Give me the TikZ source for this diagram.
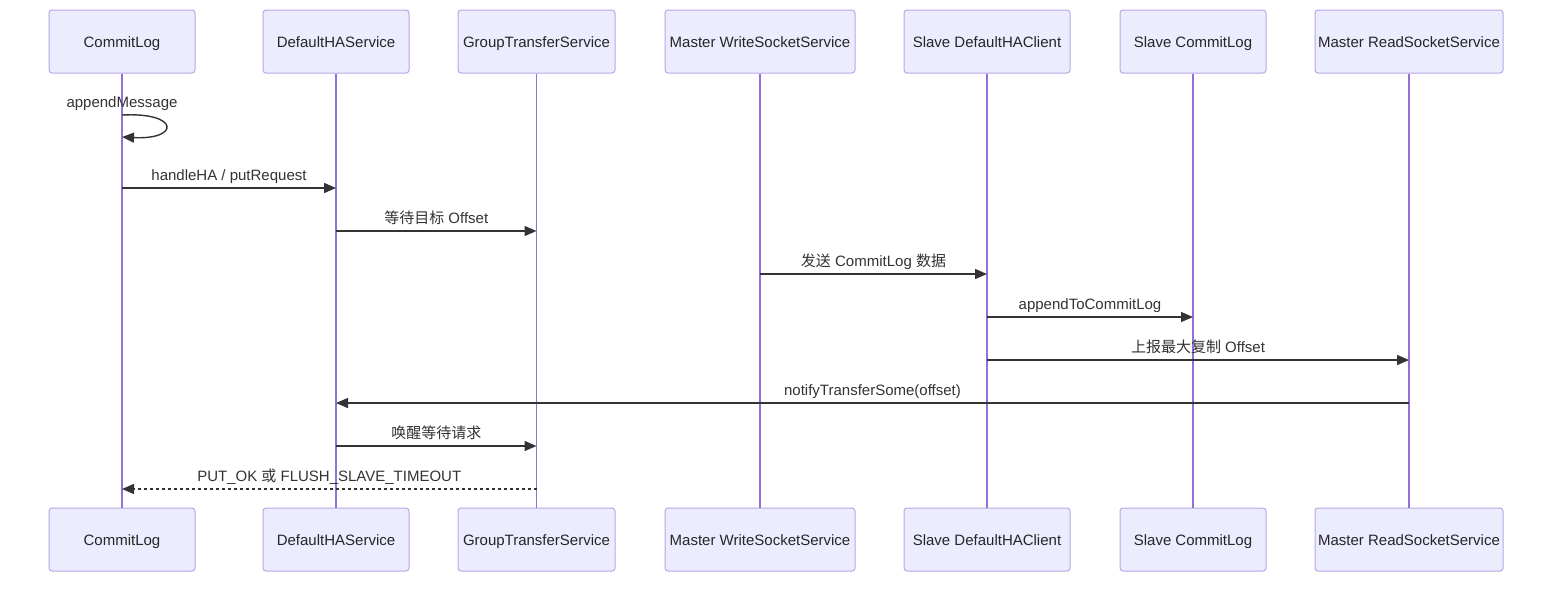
\documentclass[tikz,border=0pt]{standalone}
\usepackage{fontspec}
\setmainfont{Liberation Sans}
\newfontfamily\cjk{Noto Sans CJK SC}
\usepackage{xcolor}
\usetikzlibrary{arrows.meta}
\definecolor{actorfill}{HTML}{ECECFF}
\definecolor{actorline}{HTML}{B7A6E6}
\definecolor{lifeline}{HTML}{9370DB}
\definecolor{msgline}{HTML}{333333}
\tikzset{
  actor/.style={
    draw=actorline, fill=actorfill, rounded corners=3pt, line width=1pt,
    minimum height=63pt, inner sep=0pt, text height=12pt, text depth=0pt,
    text=black!85, font=\fontsize{15}{18}\selectfont
  },
  life/.style={draw=lifeline, line width=1.6pt},
  msg/.style={draw=msgline, line width=1.4pt, -{Triangle[length=12pt,width=10pt]}},
  reply/.style={msg, dash pattern=on 3pt off 3pt},
  lbl/.style={
    above, inner sep=3.5pt, text height=11pt, text depth=3pt, text=msgline,
    font=\fontsize{15}{18}\selectfont
  }
}

\begin{document}
\begin{tikzpicture}[x=1pt, y=-1pt]
        \useasboundingbox (0,0) rectangle (1568,590);

        % participants, top row and bottom row
        \node[actor, minimum width=146pt] (CL) at (122, 41.5) {CommitLog};
        \node[actor, minimum width=146pt] (HA) at (336, 41.5) {DefaultHAService};
        \node[actor, minimum width=157pt] (GT) at (536.5, 41.5) {GroupTransferService};
        \node[actor, minimum width=190pt] (WS) at (760, 41.5) {Master WriteSocketService};
        \node[actor, minimum width=166pt] (HC) at (987, 41.5) {Slave DefaultHAClient};
        \node[actor, minimum width=146pt] (SC) at (1193, 41.5) {Slave CommitLog};
        \node[actor, minimum width=188pt] (RS) at (1409, 41.5) {Master ReadSocketService};

        \node[actor, minimum width=146pt] (CLb) at (122, 539.5) {CommitLog};
        \node[actor, minimum width=146pt] (HAb) at (336, 539.5) {DefaultHAService};
        \node[actor, minimum width=157pt] (GTb) at (536.5, 539.5) {GroupTransferService};
        \node[actor, minimum width=190pt] (WSb) at (760, 539.5) {Master WriteSocketService};
        \node[actor, minimum width=166pt] (HCb) at (987, 539.5) {Slave DefaultHAClient};
        \node[actor, minimum width=146pt] (SCb) at (1193, 539.5) {Slave CommitLog};
        \node[actor, minimum width=188pt] (RSb) at (1409, 539.5) {Master ReadSocketService};

        % lifelines
        \draw[life] (CL) -- (CLb);
        \draw[life] (HA) -- (HAb);
        \draw[life] (GT) -- (GTb);
        \draw[life] (WS) -- (WSb);
        \draw[life] (HC) -- (HCb);
        \draw[life] (SC) -- (SCb);
        \draw[life] (RS) -- (RSb);

        % messages
        \node[lbl, inner sep=0pt] (selfmsg) at (CL |- 0,111) {appendMessage};
        \draw[msg] (CL |- 0,115) .. controls +(58,-3) and +(58,3) .. (CL |- 0,137);

        \draw[msg] (CL |- 0,188) -- node[lbl] {handleHA / putRequest} (HA |- 0,188);
        \draw[msg] (HA |- 0,231) -- node[lbl] {{\cjk 等待目标} Offset} (GT |- 0,231);
        \draw[msg] (WS |- 0,274) -- node[lbl] {{\cjk 发送} CommitLog {\cjk 数据}} (HC |- 0,274);
        \draw[msg] (HC |- 0,317) -- node[lbl] {appendToCommitLog} (SC |- 0,317);
        \draw[msg] (HC |- 0,360) -- node[lbl] {{\cjk 上报最大复制} Offset} (RS |- 0,360);
        \draw[msg] (RS |- 0,403) -- node[lbl] {notifyTransferSome(offset)} (HA |- 0,403);
        \draw[msg] (HA |- 0,446) -- node[lbl] {\cjk 唤醒等待请求} (GT |- 0,446);
        \draw[reply] (GT |- 0,489) -- node[lbl] {PUT\_OK {\cjk 或} FLUSH\_SLAVE\_TIMEOUT} (CL |- 0,489);
\end{tikzpicture}
\end{document}
